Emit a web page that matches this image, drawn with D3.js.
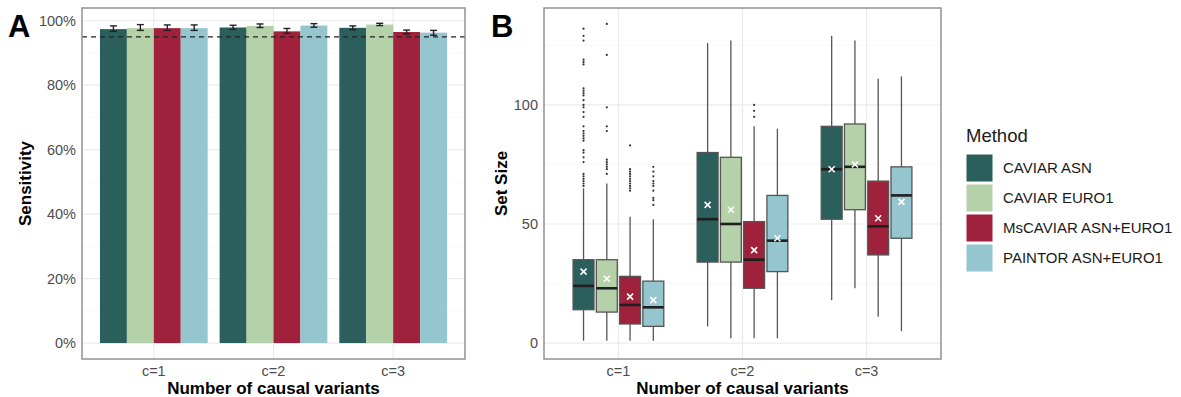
<!DOCTYPE html>
<html>
<head>
<meta charset="utf-8">
<script src="https://cdn.jsdelivr.net/npm/d3@7"></script>
<style>
  body { margin: 0; background: #fff; }
  text { font-family: "Liberation Sans", Arial, sans-serif; }
</style>
</head>
<body>
<div id="chart"></div>
<script>
// ---- data ----
const methods = ["CAVIAR ASN", "CAVIAR EURO1", "MsCAVIAR ASN+EURO1", "PAINTOR ASN+EURO1"];
const causal = ["c=1", "c=2", "c=3"];
const colors = ["#2b5f5b", "#b4d1aa", "#a0213c", "#95c6d0"];

// panel A: sensitivity (%) per method, one value per causal setting
const sensitivity = [
  [97.4, 97.9, 97.8],
  [97.7, 98.4, 98.8],
  [97.7, 96.7, 96.5],
  [97.7, 98.5, 96.3]
];
const sensLow = [
  [96.7, 97.3, 97.2],
  [97.0, 97.9, 98.5],
  [97.0, 96.1, 95.9],
  [97.0, 98.0, 95.5]
];
const sensHigh = [
  [98.4, 98.6, 98.4],
  [98.8, 99.0, 99.2],
  [98.7, 97.6, 97.1],
  [98.7, 99.1, 97.0]
];
const threshold = 95;
const sensTicks = [0, 20, 40, 60, 80, 100];

// panel B: set size box stats per method, one per causal setting
const whiskLow = [[1, 7, 18], [1, 2, 23], [1, 2, 11], [1, 2, 5]];
const q1 = [[14, 34, 52], [13, 34, 56], [8, 23, 37], [7, 30, 44]];
const median = [[24, 52, 73], [23, 50, 74], [16, 35, 49], [15, 43, 62]];
const q3 = [[35, 80, 91], [35, 78, 92], [28, 51, 68], [26, 62, 74]];
const whiskHigh = [[65, 126, 129], [67, 127, 127], [53, 91, 111], [52, 90, 112]];
const means = [[30, 58, 73], [27, 56, 75], [19.5, 39, 52.4], [18, 44, 59.3]];
const outliers = [
  [[132, 129, 127, 119, 118, 117, 107, 106, 105, 104, 102, 100, 99, 97, 95, 91, 89, 88, 87, 86, 85, 81, 80, 78, 76, 71, 70, 69, 68, 67, 66], [], []],
  [[134, 121, 99, 91, 89, 77, 76, 75, 74, 73, 71], [], []],
  [[83, 73, 72, 71, 70, 69, 68, 67, 66, 65, 64], [100, 97.5, 95], []],
  [[74, 72, 70, 68, 67, 66, 64, 61, 60, 58], [], []]
];
const sizeTicks = [0, 50, 100];
const sizeMinor = [25, 75, 125];

// ---- layout ----
const W = 1181, H = 397;
const svg = d3.select("#chart").append("svg")
  .attr("width", W).attr("height", H)
  .style("background", "#fff");

const borderCol = "#8a8a8a";
const gridMajor = "#ebebeb";
const gridMinor = "#f6f6f6";
const tickCol = "#4d4d4d";

function panelScaffold(p, yScale, majors, minors, fmt, title, letter, letterX) {
  const g = svg.append("g");
  // minor gridlines
  g.selectAll("line.minor").data(minors).enter().append("line")
    .attr("x1", p.x0).attr("x2", p.x1)
    .attr("y1", d => yScale(d)).attr("y2", d => yScale(d))
    .attr("stroke", gridMinor).attr("stroke-width", 0.8);
  g.selectAll("line.major").data(majors).enter().append("line")
    .attr("x1", p.x0).attr("x2", p.x1)
    .attr("y1", d => yScale(d)).attr("y2", d => yScale(d))
    .attr("stroke", gridMajor).attr("stroke-width", 1.2);
  g.selectAll("line.vmajor").data(causal).enter().append("line")
    .attr("x1", d => p.x(d) + p.x.bandwidth() / 2).attr("x2", d => p.x(d) + p.x.bandwidth() / 2)
    .attr("y1", p.y0).attr("y2", p.y1)
    .attr("stroke", gridMajor).attr("stroke-width", 1.2);
  // y tick labels
  g.selectAll("text.ytick").data(majors).enter().append("text")
    .attr("x", p.x0 - 6).attr("y", d => yScale(d)).attr("dy", "0.35em")
    .attr("text-anchor", "end").attr("fill", tickCol).attr("font-size", 14.5)
    .text(fmt);
  // x tick labels
  g.selectAll("text.xtick").data(causal).enter().append("text")
    .attr("x", d => p.x(d) + p.x.bandwidth() / 2).attr("y", p.y1 + 17)
    .attr("text-anchor", "middle").attr("fill", tickCol).attr("font-size", 14.5)
    .text(d => d);
  g.append("text")
    .attr("x", (p.x0 + p.x1) / 2).attr("y", p.y1 + 35)
    .attr("text-anchor", "middle").attr("font-size", 17).attr("font-weight", "bold")
    .text("Number of causal variants");
  g.append("text")
    .attr("transform", `translate(${p.titleX},${(p.y0 + p.y1) / 2}) rotate(-90)`)
    .attr("text-anchor", "middle").attr("font-size", 17).attr("font-weight", "bold")
    .text(title);
  g.append("text")
    .attr("x", letterX).attr("y", 37)
    .attr("font-size", 31).attr("font-weight", "bold")
    .text(letter);
  return g;
}

function border(p) {
  svg.append("rect")
    .attr("x", p.x0).attr("y", p.y0)
    .attr("width", p.x1 - p.x0).attr("height", p.y1 - p.y0)
    .attr("fill", "none").attr("stroke", borderCol).attr("stroke-width", 1.4);
}

// ---- panel A ----
const pA = { x0: 82, x1: 465, y0: 8, y1: 359, titleX: 31 };
pA.x = d3.scaleBand().domain(causal).range([pA.x0, pA.x1]).paddingInner(0).paddingOuter(0.1);
const yA = d3.scaleLinear().domain([-4.95, 103.95]).range([pA.y1, pA.y0]);
panelScaffold(pA, yA, sensTicks, [10, 30, 50, 70, 90], d => d + "%", "Sensitivity", "A", 8);

const subA = d3.scaleBand().domain(d3.range(methods.length))
  .range([0.05 * pA.x.bandwidth(), 0.95 * pA.x.bandwidth()]);

const barRows = [];
methods.forEach((m, mi) => causal.forEach((c, ci) => barRows.push({
  mi, c, v: sensitivity[mi][ci], lo: sensLow[mi][ci], hi: sensHigh[mi][ci]
})));

const gA = svg.append("g");
gA.selectAll("rect.bar").data(barRows).enter().append("rect")
  .attr("x", d => pA.x(d.c) + subA(d.mi))
  .attr("width", subA.bandwidth())
  .attr("y", d => yA(d.v))
  .attr("height", d => yA(0) - yA(d.v))
  .attr("fill", d => colors[d.mi]);

gA.append("line")
  .attr("x1", pA.x0).attr("x2", pA.x1)
  .attr("y1", yA(threshold)).attr("y2", yA(threshold))
  .attr("stroke", "#222").attr("stroke-width", 1.4).attr("stroke-dasharray", "5,4");

const eb = gA.selectAll("g.eb").data(barRows).enter().append("g")
  .attr("transform", d => `translate(${pA.x(d.c) + subA(d.mi) + subA.bandwidth() / 2},0)`);
eb.append("line").attr("y1", d => yA(d.lo)).attr("y2", d => yA(d.hi))
  .attr("stroke", "#222").attr("stroke-width", 1.4);
eb.append("line").attr("x1", -3.5).attr("x2", 3.5).attr("y1", d => yA(d.lo)).attr("y2", d => yA(d.lo))
  .attr("stroke", "#222").attr("stroke-width", 1.4);
eb.append("line").attr("x1", -3.5).attr("x2", 3.5).attr("y1", d => yA(d.hi)).attr("y2", d => yA(d.hi))
  .attr("stroke", "#222").attr("stroke-width", 1.4);
border(pA);

// ---- panel B ----
const pB = { x0: 544, x1: 941, y0: 8, y1: 359, titleX: 507 };
pB.x = d3.scaleBand().domain(causal).range([pB.x0, pB.x1]).paddingInner(0).paddingOuter(0.1);
const yB = d3.scaleLinear().domain([-6.7, 140.7]).range([pB.y1, pB.y0]);
panelScaffold(pB, yB, sizeTicks, sizeMinor, d => d, "Set Size", "B", 491);

const subB = d3.scaleBand().domain(d3.range(methods.length))
  .range([0.125 * pB.x.bandwidth(), 0.875 * pB.x.bandwidth()]).paddingInner(0.1).paddingOuter(0.05);

const boxRows = [];
methods.forEach((m, mi) => causal.forEach((c, ci) => boxRows.push({
  mi, c,
  lo: whiskLow[mi][ci], q1: q1[mi][ci], med: median[mi][ci], q3: q3[mi][ci],
  hi: whiskHigh[mi][ci], mean: means[mi][ci], out: outliers[mi][ci]
})));

const gB = svg.append("g");
const box = gB.selectAll("g.box").data(boxRows).enter().append("g")
  .attr("transform", d => `translate(${pB.x(d.c) + subB(d.mi) + subB.bandwidth() / 2},0)`);
const bw = subB.bandwidth();

box.append("line").attr("y1", d => yB(d.hi)).attr("y2", d => yB(d.q3))
  .attr("stroke", "#555").attr("stroke-width", 1.3);
box.append("line").attr("y1", d => yB(d.q1)).attr("y2", d => yB(d.lo))
  .attr("stroke", "#555").attr("stroke-width", 1.3);
box.selectAll("circle").data(d => d.out).enter().append("circle")
  .attr("cy", v => yB(v)).attr("r", 1.1).attr("fill", "#333");
box.append("rect")
  .attr("x", -bw / 2).attr("width", bw)
  .attr("y", d => yB(d.q3)).attr("height", d => yB(d.q1) - yB(d.q3))
  .attr("fill", d => colors[d.mi]).attr("stroke", "#555").attr("stroke-width", 1.3);
box.append("line").attr("x1", -bw / 2).attr("x2", bw / 2)
  .attr("y1", d => yB(d.med)).attr("y2", d => yB(d.med))
  .attr("stroke", "#1f1f1f").attr("stroke-width", 2.6);
const mk = box.append("g").attr("transform", d => `translate(0,${yB(d.mean)})`);
mk.append("line").attr("x1", -3).attr("x2", 3).attr("y1", -3).attr("y2", 3)
  .attr("stroke", "#fff").attr("stroke-width", 1.6);
mk.append("line").attr("x1", -3).attr("x2", 3).attr("y1", 3).attr("y2", -3)
  .attr("stroke", "#fff").attr("stroke-width", 1.6);
border(pB);

// ---- legend ----
const leg = svg.append("g").attr("transform", "translate(966,0)");
leg.append("text").attr("x", 0).attr("y", 142)
  .attr("font-size", 18.5).attr("fill", "#1a1a1a").text("Method");
const item = leg.selectAll("g.item").data(methods).enter().append("g")
  .attr("transform", (d, i) => `translate(0,${154 + i * 30})`);
item.append("rect").attr("width", 27).attr("height", 28)
  .attr("fill", (d, i) => colors[i]).attr("stroke", "#fff").attr("stroke-width", 1);
item.append("text").attr("x", 37).attr("y", 14).attr("dy", "0.35em")
  .attr("font-size", 15).attr("fill", "#1a1a1a").text(d => d);
</script>
</body>
</html>
